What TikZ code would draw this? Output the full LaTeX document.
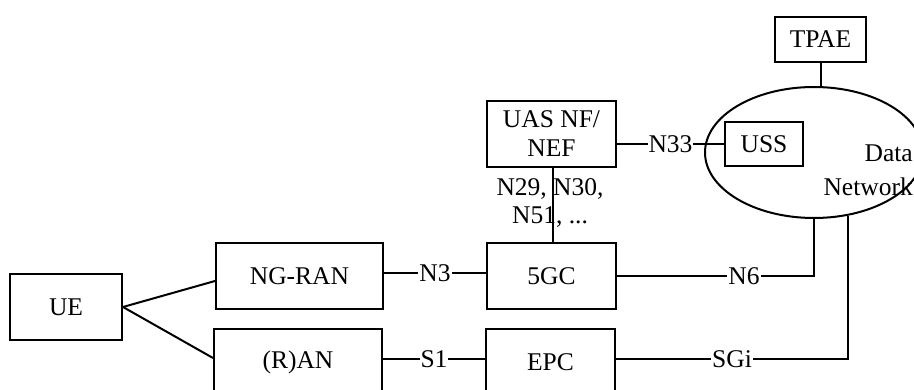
\documentclass[tikz,border=0pt]{standalone}
\usepackage{fontspec}
\setmainfont{Liberation Serif}
\usetikzlibrary{shapes.geometric,calc}
\begin{document}
\begin{tikzpicture}[x=1pt,y=-1pt,
  every node/.style={font=\fontsize{25.5}{29}\selectfont},
  box/.style={draw,line width=2pt,inner sep=0pt,align=center},
  lbl/.style={fill=white,inner sep=1pt},
  conn/.style={line width=2pt}]
\useasboundingbox (0,0) rectangle (914,390);
\clip (0,0) rectangle (914,390);
% nodes
\node[box,minimum width=112,minimum height=66] (ue) at (66,307) {UE};
\node[box,minimum width=167,minimum height=66] (ngran) at (299.5,276) {NG-RAN};
\node[box,minimum width=168,minimum height=66] (ran) at (298,362) {(R)AN};
\node[box,minimum width=129,minimum height=66] (fivegc) at (551.5,276) {5GC};
\node[box,minimum width=129,minimum height=66] (epc) at (550.5,362) {EPC};
\node[box,minimum width=129,minimum height=66] (uas) at (551.5,134) {UAS NF/\\NEF};
\node[box,minimum width=91,minimum height=45] (tpae) at (820.5,39.5) {TPAE};
\node[ellipse,draw,line width=2pt,inner sep=0pt,minimum width=218,minimum height=131] (dn) at (814,152.5) {};
\node[box,minimum width=78,minimum height=44] (uss) at (764,144) {USS};
\node[align=right,inner sep=0pt,anchor=east] (dnlbl) at (913,170) {Data\\[5pt]Network};
% connectors
\draw[conn] (ue.east) -- ([yshift=-5pt]ngran.west);
\draw[conn] (ue.east) -- ([yshift=4pt]ran.west);
\draw[conn] ([yshift=3pt]ngran.east) -- node[lbl] (n3) {N3} ([yshift=3pt]fivegc.west);
\draw[conn] ([yshift=3pt]ran.east) -- node[lbl] (s1) {S1} ([yshift=3pt]epc.west);
\draw[conn] ([xshift=1.5pt]uas.south) -- ([xshift=1.5pt]fivegc.north);
\node[align=center,inner sep=0pt] (nlist) at (550,203) {N29, N30,\\[-1pt]N51, ...};
\draw[conn] (uas.east |- uss.west) -- node[lbl] (n33) {N33} (uss.west);
\draw[conn] (tpae.south) -- (tpae.south |- dn.north);
\draw[conn] (fivegc.east) -| (dn.south);
\node[lbl] (n6) at (744,276) {N6};
\draw[conn] ([yshift=3pt]epc.east) -| (dn.-62.1);
\node[lbl] (sgi) at (732,359) {SGi};
\end{tikzpicture}
\end{document}
